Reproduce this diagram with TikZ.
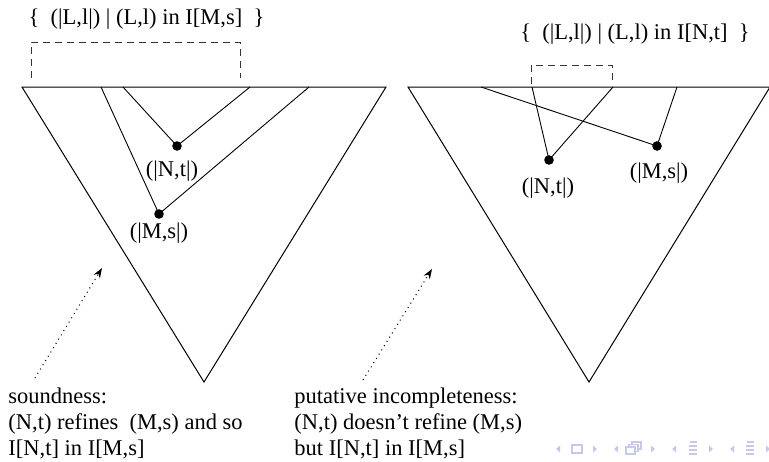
\documentclass[tikz,border=0pt]{standalone}
\usepackage{fontspec}
\setmainfont{Liberation Serif}
\usepackage{xcolor}
\usepackage{tikz}
\usetikzlibrary{arrows.meta,positioning}
\definecolor{navsym}{HTML}{C8C8E8}
\tikzset{
  tri/.style={draw=black,line width=0.5pt,line join=miter},
  edge/.style={draw=black,line width=0.45pt},
  dot/.style={circle,fill=black,inner sep=0pt,minimum size=4.8pt},
  lbl/.style={font=\fontsize{11.25}{13}\selectfont,inner sep=0pt,anchor=base},
  note/.style={lbl,align=left,anchor=north west},
  setbox/.style={draw=black!80,line width=0.5pt,dash pattern=on 3.5pt off 2.5pt},
  hint/.style={draw=black,line width=0.5pt,dotted,-{Stealth[length=5pt,width=3.6pt]}},
}

\begin{document}
\begin{tikzpicture}[x=0.5pt,y=-0.5pt]
  \useasboundingbox (0,0) rectangle (769,461);
  % left tree
  \draw[tri] (22,87) -- (386,87) -- (204,382) -- cycle;
  \node[dot] (msL) at (159,214) {};
  \node[dot] (ntL) at (177,146) {};
  \coordinate (aL1) at (101,87); \coordinate (aL2) at (309,87);
  \coordinate (bL1) at (123,87); \coordinate (bL2) at (250,87);
  \draw[edge] (aL1) -- (msL.center) -- (aL2);
  \draw[edge] (bL1) -- (ntL.center) -- (bL2);
  \node[lbl] (ntLlbl) at (172,176) {(|N,t|)};
  \node[lbl] (msLlbl) at (159,238) {(|M,s|)};
  \draw[setbox] (31,78) -- (31,42) -- (240,42) -- (240,78);
  \node[lbl] (setL) at (146.5,24) {\{ \ (|L,l|) | (L,l) in I[M,s] \ \}};
  % right tree
  \draw[tri] (408,87) -- (770,87) -- (589,382) -- cycle;
  \node[dot] (ntR) at (549,160) {};
  \node[dot] (msR) at (657,146) {};
  \coordinate (aR1) at (532,87); \coordinate (aR2) at (613,87);
  \coordinate (bR1) at (481,87); \coordinate (bR2) at (677,87);
  \draw[edge] (aR1) -- (ntR.center) -- (aR2);
  \draw[edge] (bR1) -- (msR.center) -- (bR2);
  \node[lbl] (ntRlbl) at (548,193) {(|N,t|)};
  \node[lbl] (msRlbl) at (659,178) {(|M,s|)};
  \draw[setbox] (531,84) -- (531,65) -- (612,65) -- (612,84);
  \node[lbl] (setR) at (635,39) {\{ \ (|L,l|) | (L,l) in I[N,t] \ \}};
  % remarks
  \node[note] (sound) at (8,387.6) {soundness:\\(N,t) refines \ (M,s) and so\\I[N,t] in I[M,s]};
  \node[note] (incomp) at (294,387.6) {putative incompleteness:\\(N,t) doesn't refine (M,s)\\but I[N,t] in I[M,s]};
  \coordinate (hL0) at (35,378); \coordinate (hL1) at (102,268);
  \coordinate (hR0) at (363,380); \coordinate (hR1) at (432,269);
  \draw[hint] (hL0) -- (hL1);
  \draw[hint] (hR0) -- (hR1);
  % navigation symbols
  \foreach \x in {558,616,674,732}
    \fill[navsym] (\x-2,449) -- (\x+2,445.5) -- (\x+2,452.5) -- cycle;
  \foreach \x in {595,653,711,768}
    \fill[navsym] (\x+2,449) -- (\x-2,445.5) -- (\x-2,452.5) -- cycle;
  \draw[navsym,line width=0.8pt] (572,445) rectangle (582,453);
  \draw[navsym,line width=0.8pt,fill=white] (632,442) rectangle (641,449);
  \draw[navsym,line width=0.8pt,fill=white] (629,444.5) rectangle (638,451.5);
  \draw[navsym,line width=0.8pt,fill=white] (626,447) rectangle (635,454);
  \foreach \x in {693,750} {
    \draw[navsym,line width=0.7pt] (\x-3,442) -- (\x+4,442);
    \draw[navsym,line width=0.7pt] (\x-4,446) -- (\x+4,446);
    \draw[navsym,line width=0.7pt] (\x-4,450) -- (\x+4,450);
    \draw[navsym,line width=0.7pt] (\x-4,454) -- (\x+4,454);
  }
\end{tikzpicture}
\end{document}
